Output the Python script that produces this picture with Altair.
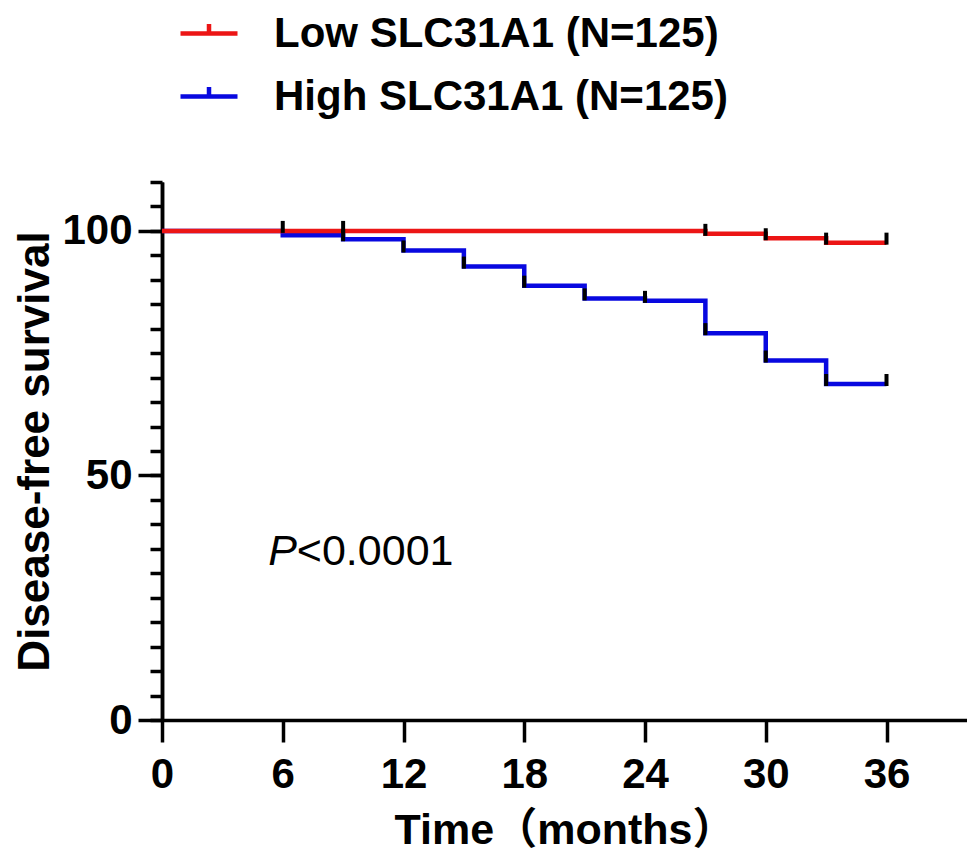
import altair as alt
import pandas as pd

low_label = "Low SLC31A1 (N=125)"
high_label = "High SLC31A1 (N=125)"

# Kaplan-Meier steps (months, % disease-free)
low_times = [0, 27, 30, 33, 36]
low_surv = [100, 99.4, 98.5, 97.6, 97.6]
low_censor_times = [6, 9, 27, 30, 33, 36]
low_censor_surv = [100, 100, 99.4, 98.5, 97.6, 97.6]

high_times = [0, 6, 9, 12, 15, 18, 21, 24, 27, 30, 33, 36]
high_surv = [100, 99.1, 98.3, 96.0, 92.7, 88.8, 86.2, 85.7, 79.1, 73.5, 68.7, 68.7]
high_censor_times = [9, 12, 15, 18, 21, 24, 27, 30, 33, 36]
high_censor_surv = [98.3, 96.0, 92.7, 88.8, 86.2, 85.7, 79.1, 73.5, 68.7, 68.7]

x_ticks = [0, 6, 12, 18, 24, 30, 36]
y_major_ticks = [0, 50, 100]
y_minor_ticks = [0, 5, 10, 15, 20, 25, 30, 35, 40, 45, 50, 55, 60, 65, 70, 75, 80, 85, 90, 95, 100, 105, 110]

p_text_pos = {"t": [6.7], "s": [34.4]}

FONT = "Liberation Sans"

low_df = pd.DataFrame({"t": low_times, "s": low_surv, "group": low_label})
high_df = pd.DataFrame({"t": high_times, "s": high_surv, "group": high_label})
censor_df = pd.DataFrame({
    "t": low_censor_times + high_censor_times,
    "s": low_censor_surv + high_censor_surv,
})
p_df = pd.DataFrame(p_text_pos)

x_scale = alt.Scale(domain=[0, 40], nice=False, zero=False)
y_scale = alt.Scale(domain=[0, 110], nice=False)

x_enc = alt.X('t:Q', scale=x_scale,
              axis=alt.Axis(values=x_ticks, title="Time（months）", grid=False,
                            tickSize=22, labelFlush=False, labelPadding=12,
                            labelFontSize=42, labelFontWeight='bold',
                            titleFontSize=43, titleFontWeight='bold',
                            titleFont=FONT + ", Noto Sans CJK SC",
                            titlePadding=14))
y_major = alt.Y('s:Q', scale=y_scale,
                axis=alt.Axis(values=y_major_ticks, orient='left', title="Disease-free survival",
                              grid=False, tickSize=24, labelFlush=False, labelPadding=6,
                              labelFontSize=42, labelFontWeight='bold',
                              titleFontSize=44, titleFontWeight='bold',
                              titlePadding=4))
y_minor = alt.Y('s:Q', scale=y_scale,
                axis=alt.Axis(values=y_minor_ticks, orient='left', title=None, grid=False,
                              tickSize=12, labels=False))
y_plain = alt.Y('s:Q', scale=y_scale, axis=None)

color = alt.Color('group:N',
                  scale=alt.Scale(domain=[low_label, high_label], range=["#ec1515", "#0808e0"]),
                  legend=alt.Legend(title=None, orient='none', legendX=16, legendY=-179.5,
                                    symbolType="M-1,0H1M0,0V-0.33", symbolSize=3249,
                                    symbolStrokeWidth=4.5, symbolFillColor='transparent',
                                    labelFont=FONT, labelFontSize=42, labelFontWeight='bold',
                                    labelColor='black', labelOffset=34, labelLimit=800,
                                    rowPadding=11, padding=0))

high_line = alt.Chart(high_df).mark_line(interpolate='step-after', strokeWidth=4.5).encode(
    x=x_enc, y=y_major, color=color)
low_line = alt.Chart(low_df).mark_line(interpolate='step-after', strokeWidth=4.5).encode(
    x='t:Q', y=y_plain, color=color)

censor = alt.Chart(censor_df).mark_tick(orient='vertical', color='black', opacity=1, size=12,
                                        thickness=4, yOffset=-4).encode(x='t:Q', y=y_minor)

p_italic = alt.Chart(p_df).mark_text(text="P", align='right', baseline='middle', font=FONT,
                                     fontSize=43, fontStyle='italic', color='black').encode(x='t:Q', y=y_plain)
p_rest = alt.Chart(p_df).mark_text(text="<0.0001", align='left', baseline='middle', font=FONT,
                                   fontSize=43, color='black').encode(x='t:Q', y=y_plain)

chart = alt.layer(high_line, low_line, censor, p_italic, p_rest).resolve_axis(
    y='independent'
).properties(
    width=805, height=538, autosize='none',
    padding={"left": 154, "top": 174, "right": 0, "bottom": 132}
).configure_view(stroke=None).configure_axis(
    domainColor='black', domainWidth=3.5, tickColor='black', tickWidth=3.5,
    labelColor='black', titleColor='black', labelFont=FONT, titleFont=FONT
)

chart.save("out.html", embed_options={"renderer": "svg", "actions": False})
